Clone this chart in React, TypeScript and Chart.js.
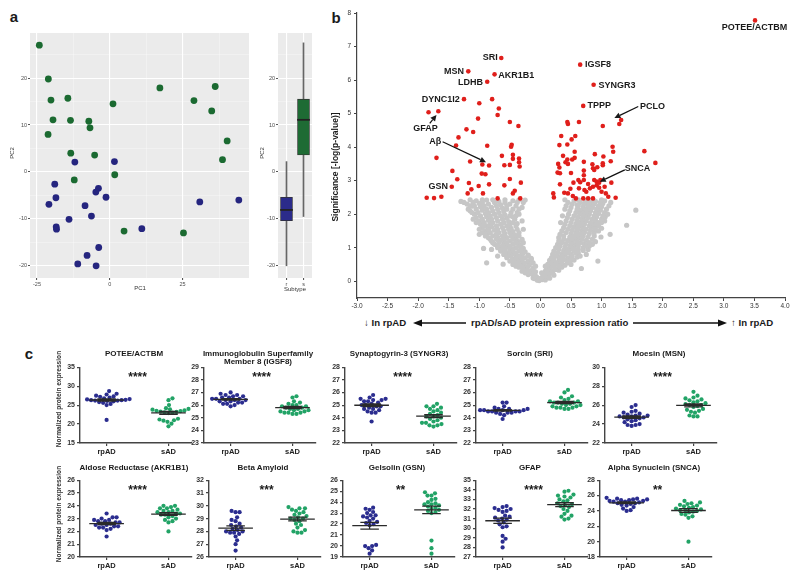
import React, { useEffect, useRef } from 'react';
import { Chart, registerables } from 'chart.js';
Chart.register(...registerables);

const FONT = '"Liberation Sans", Arial, sans-serif';

// ---------------- Panel a: PCA ----------------
const PCA_RPAD = [[-12.0,2.1],[1.6,2.2],[-18.9,-2.6],[-3.9,-3.5],[-4.8,-4.3],[-1.3,-5.4],[-18.5,-5.5],[-20.9,-6.9],[-8.5,-7.2],[-6.3,-9.4],[-14.0,-10.1],[-18.4,-11.7],[-18.3,-12.2],[11.0,-12.1],[-3.8,-16.1],[-7.8,-17.8],[-11.0,-19.6],[-4.7,-20.0],[30.9,-6.4],[44.3,-6.0]];
const PCA_SAD = [[-24.2,27.0],[-21.1,19.8],[-20.2,15.3],[-14.4,15.7],[-19.5,11.1],[-13.5,11.0],[-21.2,8.0],[-7.2,10.8],[-6.8,9.4],[-13.4,4.0],[-5.2,3.6],[-12.2,-1.7],[1.1,14.5],[1.7,-0.6],[17.2,17.9],[28.9,15.2],[36.2,18.2],[35.0,13.0],[40.3,6.6],[38.7,2.6],[4.9,-12.6],[25.3,-13.0]];
const PCA_X_GRID = [-25, -12.5, 0, 12.5, 25, 37.5];
const PCA_Y_GRID = [-20, -15, -10, -5, 0, 5, 10, 15, 20, 25];
const SUBTYPES = ['r', 's'];
const BOX_MIN = [-20.0, -9.5];
const BOX_Q1 = [-10.4, 3.6];
const BOX_MED = [-8.1, 11.1];
const BOX_Q3 = [-5.4, 15.5];
const BOX_MAX = [2.2, 27.5];

// ---------------- Panel b: volcano ----------------
const RED_PTS = [[3.51,7.78],[-0.64,6.66],[-1.18,6.26],[-0.75,6.17],[-0.87,5.95],[-1.25,5.43],[-1.83,5.04],[-1.67,5.07],[0.65,6.46],[0.87,5.86],[0.70,5.23],[1.32,4.81],[1.29,4.69],[1.02,4.63],[-1.45,2.82],
[-1.0,5.31],[-0.79,5.43],[-0.68,5.15],[-0.70,4.96],[-1.02,4.85],[-0.50,4.75],[-0.36,4.63],[-1.21,4.53],[-1.10,4.45],[-1.34,4.29],[-1.38,4.05],[-0.87,4.04],[-0.47,4.07],[-0.48,4.01],[-1.70,3.68],[-0.63,3.74],[-0.45,3.77],[-0.45,3.65],[-0.35,3.66],[-0.35,3.55],[-1.15,3.57],[-0.95,3.48],[-0.84,3.45],[-0.59,3.46],[-0.50,3.47],[-0.34,3.42],[-1.44,3.29],[-0.96,3.21],[-0.90,3.19],[-1.36,3.04],[-0.50,3.05],[-0.32,2.94],[-1.17,2.93],[-1.01,2.84],[-0.84,2.89],[-0.59,2.86],[-1.13,2.74],[-0.94,2.62],[-1.19,2.62],[-0.42,2.70],[-0.45,2.62],[-1.86,2.49],[-1.74,2.48],[-1.62,2.52],[-0.33,2.47],[-0.70,2.47],
[0.44,4.75],[0.45,4.69],[0.63,4.75],[0.57,4.33],[0.51,4.23],[0.34,4.33],[0.31,4.06],[0.44,4.08],[0.56,3.86],[1.18,4.01],[1.19,3.86],[0.89,3.79],[1.03,3.72],[1.70,3.88],[1.88,3.53],[0.37,3.74],[0.44,3.63],[0.52,3.63],[0.56,3.68],[0.41,3.55],[0.45,3.50],[0.71,3.56],[0.85,3.49],[1.02,3.52],[1.02,3.46],[1.15,3.58],[0.29,3.50],[0.31,3.39],[0.32,3.22],[0.71,3.30],[0.86,3.37],[0.93,3.40],[0.88,3.32],[0.28,3.24],[0.50,3.23],[0.71,3.16],[0.62,3.02],[0.71,3.02],[0.88,3.02],[0.92,2.97],[0.96,2.94],[0.98,3.02],[1.16,2.94],[0.32,2.89],[0.54,2.94],[0.65,2.95],[0.78,2.90],[0.92,2.86],[0.86,2.82],[0.96,2.79],[1.05,2.82],[0.49,2.76],[0.63,2.77],[0.72,2.72],[0.81,2.77],[1.00,2.67],[0.75,2.67],[0.39,2.64],[0.45,2.62],[0.21,2.62],[0.22,2.50],[0.53,2.54],[0.58,2.47],[0.70,2.47],[0.78,2.47],[0.86,2.47],[1.07,2.62],[1.11,2.52],[1.23,2.49]];

const GRAY_PTS = [[-0.05,0.03],[0.03,0.05],[0.08,0.04],[-0.1,0.08],[-0.12,0.1],[0.1,0.12],[-0.02,0.08],[0.15,0.09],
[-0.2,0.2],[-0.1,0.18],[0.05,0.2],[0.15,0.22],[0.22,0.18],[-0.25,0.25],
[-0.3,0.3],[-0.15,0.32],[-0.08,0.28],[0.08,0.3],[0.2,0.3],[0.3,0.33],[-0.22,0.35],
[-0.35,0.42],[-0.25,0.4],[-0.12,0.4],[0.1,0.4],[0.25,0.38],[0.35,0.42],[0.18,0.45],[-0.4,0.45],
[-0.45,0.5],[-0.3,0.52],[-0.18,0.5],[-0.61,0.51],[0.12,0.5],[0.28,0.52],[0.4,0.48],[0.5,0.5],[-0.88,0.55],
[-0.5,0.6],[-0.35,0.62],[-0.2,0.6],[0.15,0.62],[0.3,0.6],[0.45,0.6],[0.55,0.63],[0.94,0.6],[0.67,0.38],
[-0.55,0.7],[-0.4,0.72],[-0.25,0.7],[-0.15,0.68],[0.18,0.7],[0.3,0.72],[0.45,0.7],[0.6,0.72],[-0.7,0.75],
[-0.6,0.8],[-0.45,0.82],[-0.3,0.8],[-0.2,0.78],[0.2,0.8],[0.35,0.82],[0.5,0.8],[0.62,0.85],[0.75,0.8],
[-0.65,0.9],[-0.5,0.92],[-0.35,0.9],[-0.25,0.88],[0.22,0.9],[0.38,0.92],[0.55,0.9],[0.7,0.92],[-0.8,0.95],
[-0.93,0.98],[-0.7,1.0],[-0.55,1.02],[-0.4,1.0],[-0.28,0.98],[0.25,1.0],[0.4,1.02],[0.55,1.0],[0.7,1.0],[0.8,1.05],
[-0.75,1.1],[-0.6,1.12],[-0.45,1.1],[-0.32,1.08],[0.28,1.1],[0.42,1.12],[0.58,1.1],[0.72,1.12],[0.85,1.1],
[-0.8,1.2],[-0.65,1.22],[-0.5,1.2],[-0.36,1.18],[0.3,1.2],[0.45,1.22],[0.6,1.2],[0.75,1.22],[0.9,1.18],
[-0.85,1.3],[-0.7,1.32],[-0.55,1.3],[-0.4,1.28],[0.3,1.3],[0.48,1.32],[0.62,1.3],[0.78,1.32],[0.99,1.32],
[-1.0,1.4],[-0.88,1.42],[-0.72,1.4],[-0.58,1.42],[-0.42,1.38],[0.32,1.4],[0.5,1.42],[0.65,1.4],[0.8,1.42],[1.14,1.4],
[-0.9,1.5],[-0.75,1.52],[-0.6,1.5],[-0.45,1.48],[0.35,1.5],[0.52,1.52],[0.68,1.5],[0.82,1.52],[0.95,1.5],
[-0.95,1.6],[-0.8,1.62],[-0.62,1.6],[-0.48,1.58],[0.38,1.6],[0.55,1.62],[0.7,1.6],[0.85,1.62],[1.0,1.58],
[-0.98,1.7],[-0.82,1.72],[-0.65,1.7],[-0.5,1.68],[0.4,1.7],[0.58,1.72],[0.72,1.7],[0.88,1.72],[1.41,1.67],
[-1.0,1.8],[-0.85,1.82],[-0.7,1.8],[-0.52,1.78],[-0.3,1.8],[0.42,1.8],[0.6,1.82],[0.75,1.8],[0.9,1.82],[1.05,1.8],
[-1.05,1.9],[-0.88,1.92],[-0.72,1.9],[-0.55,1.88],[0.44,1.9],[0.62,1.92],[0.78,1.9],[0.92,1.92],[1.06,1.92],
[-1.08,2.0],[-0.9,2.02],[-0.75,2.0],[-0.58,1.98],[-0.35,2.0],[0.46,2.0],[0.65,2.02],[0.8,2.0],[0.95,2.02],[1.1,2.0],
[-1.15,2.1],[-0.95,2.12],[-0.78,2.1],[-0.6,2.08],[0.48,2.1],[0.68,2.12],[0.82,2.1],[0.98,2.12],[1.56,2.12],
[-1.12,2.24],[-0.98,2.22],[-0.8,2.2],[-0.62,2.18],[-0.3,2.2],[0.5,2.2],[0.7,2.22],[0.85,2.2],[1.0,2.22],
[-1.2,2.3],[-1.0,2.32],[-0.85,2.3],[-0.65,2.28],[-0.28,2.35],[0.52,2.3],[0.72,2.32],[0.88,2.3],[1.02,2.32],
[-1.3,2.38],[-1.05,2.4],[-0.88,2.42],[-0.68,2.38],[-0.45,2.4],[-0.25,2.42],[0.55,2.4],[0.75,2.42],[0.9,2.38],[1.05,2.4],
[-0.02,0.02],[0.02,0.1],[-0.06,0.12],[0.06,0.15],[-0.14,0.22],[0.12,0.25],[-0.18,0.3],[0.16,0.35],[-0.28,0.45],[0.22,0.48],[-0.35,0.55],[0.25,0.55],[-0.42,0.65],[0.35,0.65],[-0.48,0.75],[0.4,0.78],[-0.52,0.85],[0.45,0.85],[-0.58,0.95],[0.48,0.95],[-0.62,1.05],[0.5,1.05],[-0.68,1.15],[0.52,1.15],[-0.72,1.25],[0.55,1.25],[-0.78,1.35],[0.58,1.35],[-0.82,1.45],[0.6,1.45],[-0.85,1.55],[0.62,1.55],[-0.88,1.65],[0.65,1.65],[-0.92,1.75],[0.68,1.75],[-0.95,1.85],[0.7,1.85],[-0.98,1.95],[0.72,1.95],[-1.02,2.05],[0.75,2.05],[-1.05,2.15],[0.78,2.15],[-1.08,2.25],[0.8,2.25],[-1.1,2.35],[0.82,2.35],[-0.5,2.3],[0.6,2.28],[-0.55,2.15],[0.62,2.12],[0.36,1.95],[-0.45,1.92],[0.33,1.75],[-0.38,1.72],[0.9,1.68],[1.0,1.75],[-0.28,1.55],[1.05,1.98]];

const GRAY_FILL = [[-0.08,0.15],[0.04,0.15],[0.12,0.15],
[-0.2,0.25],[-0.12,0.25],[0.02,0.25],[0.1,0.25],[0.2,0.25],
[-0.28,0.35],[-0.12,0.35],[0.12,0.35],[0.25,0.35],
[-0.32,0.45],[-0.2,0.45],[-0.08,0.45],[0.08,0.45],[0.2,0.45],[0.3,0.45],
[-0.42,0.55],[-0.26,0.55],[-0.12,0.55],[0.18,0.55],[0.35,0.55],[0.44,0.55],
[-0.46,0.65],[-0.3,0.65],[-0.15,0.65],[0.22,0.65],[0.38,0.65],[0.5,0.65],
[-0.55,0.75],[-0.35,0.75],[-0.2,0.75],[0.25,0.75],[0.35,0.75],[0.52,0.75],[0.65,0.75],
[-0.58,0.85],[-0.4,0.85],[-0.28,0.85],[0.28,0.85],[0.42,0.85],[0.58,0.85],
[-0.65,0.95],[-0.45,0.95],[-0.32,0.95],[0.3,0.95],[0.45,0.95],[0.62,0.95],[0.78,0.95],
[-0.7,1.05],[-0.5,1.05],[-0.35,1.05],[0.32,1.05],[0.48,1.05],[0.62,1.05],[0.75,1.05],
[-0.78,1.15],[-0.55,1.15],[-0.4,1.15],[-0.28,1.15],[0.35,1.15],[0.5,1.15],[0.65,1.15],[0.8,1.15],
[-0.82,1.25],[-0.6,1.25],[-0.45,1.25],[-0.3,1.25],[0.38,1.25],[0.52,1.25],[0.68,1.25],[0.85,1.25],
[-0.9,1.35],[-0.62,1.35],[-0.48,1.35],[-0.35,1.35],[0.38,1.35],[0.55,1.35],[0.7,1.35],[0.88,1.35],
[-0.95,1.45],[-0.68,1.45],[-0.5,1.45],[-0.35,1.45],[0.42,1.45],[0.58,1.45],[0.72,1.45],[0.88,1.45],
[-1.0,1.55],[-0.7,1.55],[-0.52,1.55],[-0.38,1.55],[0.45,1.55],[0.6,1.55],[0.75,1.55],[0.9,1.55],
[-0.92,1.65],[-0.72,1.65],[-0.55,1.65],[-0.4,1.65],[0.48,1.65],[0.62,1.65],[0.8,1.65],[0.95,1.65],
[-1.05,1.75],[-0.78,1.75],[-0.6,1.75],[-0.45,1.75],[0.5,1.75],[0.65,1.75],[0.82,1.75],[0.95,1.75],
[-1.1,1.85],[-0.8,1.85],[-0.62,1.85],[-0.42,1.85],[0.52,1.85],[0.68,1.85],[0.85,1.85],[1.0,1.85],
[-0.82,1.95],[-0.65,1.95],[-0.5,1.95],[-0.4,1.95],[0.55,1.95],[0.7,1.95],[0.88,1.95],[1.02,1.95],
[-1.12,2.05],[-0.85,2.05],[-0.68,2.05],[-0.48,2.05],[-0.38,2.05],[0.58,2.05],[0.72,2.05],[0.9,2.05],[1.05,2.05],
[-1.18,2.15],[-0.88,2.15],[-0.7,2.15],[-0.45,2.15],[-0.35,2.15],[0.4,2.15],[0.6,2.15],[0.75,2.15],[0.92,2.15],[1.08,2.15],
[-1.15,2.25],[-0.92,2.25],[-0.72,2.25],[-0.55,2.25],[-0.4,2.25],[0.42,2.25],[0.62,2.25],[0.78,2.25],[0.95,2.25],[1.12,2.25],
[-1.25,2.35],[-0.95,2.35],[-0.75,2.35],[-0.58,2.35],[-0.38,2.35],[0.45,2.35],[0.65,2.35],[0.8,2.35],[0.98,2.35],[1.15,2.35],
[-1.15,2.43],[-0.95,2.43],[-0.78,2.43],[-0.58,2.43],[-0.35,2.43],[0.4,2.43],[0.62,2.43],[0.82,2.43],[1.0,2.43]];

const V_LABELS = [
  { text: 'POTEE/ACTBM', x: 3.50, y: 7.56, align: 'center' },
  { text: 'SRI', x: -0.70, y: 6.66, align: 'right' },
  { text: 'MSN', x: -1.25, y: 6.26, align: 'right' },
  { text: 'AKR1B1', x: -0.69, y: 6.15, align: 'left' },
  { text: 'LDHB', x: -0.94, y: 5.94, align: 'right' },
  { text: 'DYNC1I2', x: -1.32, y: 5.43, align: 'right' },
  { text: 'GFAP', x: -1.88, y: 4.54, align: 'center' },
  { text: 'Aβ', x: -1.72, y: 4.17, align: 'center' },
  { text: 'GSN', x: -1.51, y: 2.82, align: 'right' },
  { text: 'IGSF8', x: 0.73, y: 6.46, align: 'left' },
  { text: 'SYNGR3', x: 0.95, y: 5.85, align: 'left' },
  { text: 'TPPP', x: 0.77, y: 5.23, align: 'left' },
  { text: 'PCLO', x: 1.63, y: 5.21, align: 'left' },
  { text: 'SNCA', x: 1.38, y: 3.35, align: 'left' },
];
const V_ARROWS = [
  [-1.81, 4.71, -1.70, 4.96],
  [-1.60, 4.16, -0.89, 3.55],
  [1.60, 5.21, 1.21, 4.87],
  [1.38, 3.32, 0.97, 2.97],
];

// ---------------- Panel c: dot plots ----------------
const GROUPS = ['rpAD', 'sAD'];
const C_TITLES = ['POTEE/ACTBM', 'Immunoglobulin Superfamily\nMember 8 (IGSF8)', 'Synaptogyrin-3 (SYNGR3)', 'Sorcin (SRI)', 'Moesin (MSN)',
  'Aldose Reductase (AKR1B1)', 'Beta Amyloid', 'Gelsolin (GSN)', 'GFAP', 'Alpha Synuclein (SNCA)'];
const C_STARS = ['****', '****', '****', '****', '****', '****', '***', '**', '****', '**'];
const C_YMIN = [15, 23, 22, 22, 22, 20, 26, 19, 27, 18];
const C_YMAX = [35, 29, 28, 28, 30, 26, 32, 26, 35, 28];
const C_YSTEP = [5, 1, 1, 1, 2, 1, 1, 1, 1, 2];
const C_RPAD = [
  [28.7,28.0,27.8,27.5,27.3,27.2,27.0,26.8,26.6,26.5,26.4,26.3,26.3,26.2,26.2,26.1,26.0,25.8,25.6,25.3,25.0,21.1],
  [27.0,26.9,26.8,26.8,26.7,26.7,26.6,26.6,26.5,26.5,26.5,26.4,26.4,26.4,26.3,26.3,26.2,26.2,26.1,26.1,26.0,25.9],
  [25.8,25.6,25.5,25.5,25.4,25.4,25.3,25.3,25.2,25.1,25.0,25.0,24.9,24.9,24.8,24.7,24.7,24.6,24.5,24.4,24.4,23.7],
  [25.2,25.2,24.9,24.8,24.7,24.7,24.7,24.6,24.6,24.6,24.6,24.5,24.5,24.5,24.5,24.4,24.4,24.4,24.3,24.2,23.9],
  [26.0,25.8,25.4,25.3,25.2,25.1,25.0,24.9,24.9,24.8,24.8,24.7,24.7,24.6,24.5,24.4,24.3,24.2,24.0,23.9,23.9,23.8],
  [23.4,23.1,23.1,23.0,22.9,22.9,22.8,22.8,22.7,22.7,22.6,22.6,22.5,22.5,22.4,22.4,22.3,22.3,22.2,22.1,21.6],
  [29.6,29.5,29.5,29.1,28.9,28.8,28.6,28.5,28.4,28.3,28.2,28.1,28.0,28.0,27.9,27.9,27.8,27.6,27.3,27.0,26.5],
  [23.5,23.4,23.3,23.1,23.0,22.8,22.8,22.7,22.6,22.5,22.3,22.2,22.1,22.0,21.9,20.1,20.0,20.0,19.8,19.6,19.3],
  [32.3,32.2,32.1,32.0,31.9,31.8,31.7,31.3,31.2,31.1,31.0,30.9,30.8,30.6,30.4,30.2,30.1,29.2,28.9,28.6,28.0],
  [25.7,25.6,25.6,25.5,25.5,25.4,25.4,25.3,25.3,25.2,25.2,25.1,25.0,25.0,24.9,24.8,24.7,24.5,24.3,24.1,24.0],
];
const C_SAD = [
  [26.8,26.3,25.0,24.2,24.0,23.9,23.8,23.6,23.5,23.4,23.3,23.2,23.1,23.0,22.9,21.4,21.2,21.0,20.9,20.6,20.1,19.4],
  [26.7,26.6,26.3,26.2,26.1,26.0,26.0,25.9,25.9,25.8,25.8,25.7,25.7,25.6,25.6,25.5,25.5,25.4,25.4,25.4,25.3,25.3],
  [25.1,24.9,24.9,24.8,24.7,24.6,24.5,24.4,24.3,24.2,24.1,24.1,24.0,23.9,23.8,23.7,23.6,23.6,23.5,23.4,23.4,23.3],
  [26.2,26.0,25.7,25.6,25.5,25.4,25.3,25.3,25.2,25.2,25.2,25.1,25.1,25.0,25.0,24.9,24.9,24.8,24.8,24.8,24.7,24.7],
  [27.4,27.0,26.8,26.7,26.6,26.5,26.4,26.3,26.2,26.1,26.0,26.0,25.9,25.8,25.6,25.5,25.4,25.3,25.2,24.9,24.8,24.8],
  [24.0,24.0,23.9,23.8,23.8,23.7,23.6,23.6,23.5,23.5,23.4,23.4,23.3,23.3,23.2,23.1,23.0,22.9,22.8,22.7,22.0],
  [29.9,29.8,29.8,29.7,29.6,29.5,29.4,29.3,29.2,29.1,29.0,29.0,28.9,28.8,28.6,28.5,28.3,28.1,28.0,27.9,27.9],
  [24.9,24.8,24.6,24.6,24.3,24.2,24.0,23.9,23.8,23.8,23.7,23.6,23.5,23.4,23.3,23.2,23.1,23.0,20.5,19.8,19.3],
  [33.9,33.8,33.5,33.4,33.3,33.2,33.0,32.9,32.8,32.6,32.5,32.4,32.3,32.2,32.0,31.8,31.5,31.3,31.2,31.0,30.9],
  [25.3,25.1,25.0,24.9,24.8,24.7,24.6,24.5,24.4,24.3,24.2,24.1,24.1,24.0,23.9,23.8,23.6,23.5,23.3,23.1,20.0],
];

// ---------------- layout (not data) ----------------
const C_LEFT = [80, 204, 345, 476, 605, 80, 209, 343, 476, 600];
const C_ROW_TOP = [367, 480];
const C_ROW_BOTTOM = [443, 557];
const C_PLOT_W = 112;
const C_XMIN = -0.43, C_XMAX = 1.38;
const GROUP_COLORS = ['#2b2d8f', '#22a366'];
const DOT_DIAM = 4.0;

function swarmOffsets(values: number[], pxPerY: number): number[] {
  const order = values.map((_, i) => i).sort((a, b) => values[a] - values[b]);
  const placed: { x: number; y: number }[] = [];
  const offs = new Array(values.length).fill(0);
  for (const i of order) {
    const py = values[i] * pxPerY;
    let best = 0;
    for (let k = 0; k < 400; k++) {
      const cand = (k % 2 === 1 ? 1 : -1) * Math.ceil(k / 2) * 0.5;
      const ok = placed.every(p => (p.x - cand) ** 2 + (p.y - py) ** 2 >= DOT_DIAM * DOT_DIAM);
      if (ok) { best = cand; break; }
    }
    placed.push({ x: best, y: py });
    offs[i] = best;
  }
  return offs;
}

function fixed(padL: number, padB: number) {
  return {
    x: (s: any) => { s.height = padB; },
    y: (s: any) => { s.width = padL; },
  };
}

const bgPlugin = {
  id: 'ggbg',
  beforeDraw(chart: any) {
    const { ctx, chartArea: a } = chart;
    ctx.save();
    ctx.fillStyle = '#ebebeb';
    ctx.fillRect(a.left, a.top, a.right - a.left, a.bottom - a.top);
    ctx.restore();
  },
};

const baseOpts = {
  responsive: false,
  maintainAspectRatio: false,
  animation: false,
  devicePixelRatio: 1,
  events: [],
};

function ggScale(gridVals: number[], major: (v: number) => boolean, min: number, max: number, afterFit: any) {
  return {
    type: 'linear',
    min, max,
    afterFit,
    afterBuildTicks: (s: any) => { s.ticks = gridVals.map(v => ({ value: v })); },
    border: { display: false },
    grid: {
      color: (c: any) => (c.tick && major(c.tick.value) ? '#ffffff' : 'rgba(255,255,255,0.6)'),
      lineWidth: (c: any) => (c.tick && major(c.tick.value) ? 1.1 : 0.5),
      tickColor: (c: any) => (c.tick && major(c.tick.value) ? '#555' : 'rgba(0,0,0,0)'),
      tickLength: 2,
      drawTicks: true,
    },
    ticks: {
      autoSkip: false,
      padding: 1,
      color: '#4d4d4d',
      font: { family: FONT, size: 5.5 },
      callback: (v: number) => (major(v) ? String(v) : ''),
    },
  };
}

function pcaConfig() {
  const f = fixed(30, 17);
  return {
    type: 'scatter',
    data: {
      datasets: [
        { data: PCA_RPAD.map(p => ({ x: p[0], y: p[1] })), backgroundColor: '#25257f', pointRadius: 3.4, borderWidth: 0 },
        { data: PCA_SAD.map(p => ({ x: p[0], y: p[1] })), backgroundColor: '#1b6a31', pointRadius: 3.4, borderWidth: 0 },
      ],
    },
    options: {
      ...baseOpts,
      layout: { padding: { top: 13, right: 6, left: 0, bottom: 0 } },
      plugins: { legend: { display: false }, tooltip: { enabled: false } },
      scales: {
        x: ggScale(PCA_X_GRID, v => v % 25 === 0, -27.4, 47.8, f.x),
        y: ggScale(PCA_Y_GRID, v => v % 10 === 0, -22.6, 29.6, f.y),
      },
    },
    plugins: [bgPlugin],
  };
}

function boxConfig() {
  const f = fixed(23, 17);
  const yS = ggScale(PCA_Y_GRID, v => v % 10 === 0, -22.6, 29.6, f.y);
  return {
    type: 'bar',
    data: {
      labels: SUBTYPES,
      datasets: [
        { data: SUBTYPES.map((_, i) => [BOX_MIN[i], BOX_MAX[i]]), backgroundColor: '#666', barThickness: 1, grouped: false, order: 3 },
        { data: SUBTYPES.map((_, i) => [BOX_Q1[i], BOX_Q3[i]]), backgroundColor: ['#2b2b8a', '#1e6b34'], borderColor: '#333', borderWidth: 0.8, borderSkipped: false, barThickness: 12, grouped: false, order: 2 },
        { data: SUBTYPES.map((_, i) => [BOX_MED[i] - 0.12, BOX_MED[i] + 0.12]), backgroundColor: '#222', barThickness: 12, grouped: false, order: 1 },
      ],
    },
    options: {
      ...baseOpts,
      layout: { padding: { top: 13, right: 8, left: 0, bottom: 0 } },
      plugins: { legend: { display: false }, tooltip: { enabled: false } },
      scales: {
        x: {
          type: 'category',
          afterFit: f.x,
          border: { display: false },
          grid: { offset: false, color: '#ffffff', lineWidth: 1.1, tickColor: '#555', tickLength: 2 },
          ticks: { padding: 1, color: '#4d4d4d', font: { family: FONT, size: 5.5 } },
        },
        y: yS,
      },
    },
    plugins: [bgPlugin],
  };
}

function drawArrow(ctx: any, x1: number, y1: number, x2: number, y2: number, head: number, half: number) {
  const ang = Math.atan2(y2 - y1, x2 - x1);
  const bx = x2 - head * Math.cos(ang), by = y2 - head * Math.sin(ang);
  ctx.beginPath();
  ctx.moveTo(x1, y1);
  ctx.lineTo(bx, by);
  ctx.stroke();
  ctx.beginPath();
  ctx.moveTo(x2, y2);
  ctx.lineTo(bx + half * Math.sin(ang), by - half * Math.cos(ang));
  ctx.lineTo(bx - half * Math.sin(ang), by + half * Math.cos(ang));
  ctx.closePath();
  ctx.fill();
}

const volcanoLabels = {
  id: 'vlabels',
  afterDatasetsDraw(chart: any) {
    const { ctx, scales: { x, y } } = chart;
    ctx.save();
    ctx.font = `bold 9px ${FONT}`;
    ctx.fillStyle = '#1a1a1a';
    ctx.textBaseline = 'middle';
    V_LABELS.forEach(l => {
      ctx.textAlign = l.align;
      ctx.fillText(l.text, x.getPixelForValue(l.x), y.getPixelForValue(l.y));
    });
    ctx.strokeStyle = '#111';
    ctx.lineWidth = 1.2;
    V_ARROWS.forEach(a => {
      drawArrow(ctx, x.getPixelForValue(a[0]), y.getPixelForValue(a[1]), x.getPixelForValue(a[2]), y.getPixelForValue(a[3]), 6, 3);
    });
    ctx.restore();
  },
};

function volcanoConfig() {
  const f = fixed(27, 17);
  const axisCommon = {
    border: { display: true, color: '#444', width: 1.2 },
    grid: { drawOnChartArea: false, drawTicks: true, tickLength: 3, color: '#444' },
  };
  return {
    type: 'scatter',
    data: {
      datasets: [
        { data: RED_PTS.map(p => ({ x: p[0], y: p[1] })), backgroundColor: '#e01f1b', pointRadius: 2.3, borderWidth: 0, order: 1 },
        { data: GRAY_PTS.concat(GRAY_FILL).map(p => ({ x: p[0], y: p[1] })), backgroundColor: '#c6c6c6', pointRadius: 2.6, borderWidth: 0, order: 2 },
      ],
    },
    options: {
      ...baseOpts,
      layout: { padding: { top: 13, right: 15, left: 0, bottom: 0 } },
      plugins: { legend: { display: false }, tooltip: { enabled: false } },
      scales: {
        x: {
          type: 'linear', min: -3, max: 4, afterFit: f.x, ...axisCommon,
          ticks: { stepSize: 0.5, autoSkip: false, maxRotation: 0, padding: 1, color: '#333', font: { family: FONT, size: 6.5 }, callback: (v: number) => v.toFixed(1) },
        },
        y: {
          type: 'linear', min: -0.5, max: 8, afterFit: f.y, ...axisCommon,
          ticks: { stepSize: 1, autoSkip: false, includeBounds: false, padding: 3, color: '#333', font: { family: FONT, size: 6.5 } },
        },
      },
    },
    plugins: [volcanoLabels],
  };
}

function dotConfig(i: number) {
  const row = i < 5 ? 0 : 1;
  const plotH = C_ROW_BOTTOM[row] - C_ROW_TOP[row];
  const pxY = plotH / (C_YMAX[i] - C_YMIN[i]);
  const pxX = C_PLOT_W / (C_XMAX - C_XMIN);
  const groups = [C_RPAD[i], C_SAD[i]];
  const datasets = groups.map((vals, g) => {
    const offs = swarmOffsets(vals, pxY);
    return {
      data: vals.map((v, k) => ({ x: g + offs[k] / pxX, y: v })),
      backgroundColor: GROUP_COLORS[g],
      pointRadius: 2.1,
      borderWidth: 0,
    };
  });
  const stats = groups.map(vals => {
    const n = vals.length;
    const m = vals.reduce((a, b) => a + b, 0) / n;
    const sd = Math.sqrt(vals.reduce((a, b) => a + (b - m) ** 2, 0) / (n - 1));
    return { m, sem: sd / Math.sqrt(n) };
  });
  const meanPlugin = {
    id: 'meansem',
    afterDatasetsDraw(chart: any) {
      const { ctx, scales: { x, y }, chartArea } = chart;
      ctx.save();
      ctx.strokeStyle = '#2a2a2a';
      ctx.lineWidth = 1.3;
      stats.forEach((s, g) => {
        const cx = x.getPixelForValue(g);
        const ym = y.getPixelForValue(s.m);
        const yh = y.getPixelForValue(s.m + s.sem);
        const yl = y.getPixelForValue(s.m - s.sem);
        ctx.beginPath();
        ctx.moveTo(x.getPixelForValue(g - 0.28), ym); ctx.lineTo(x.getPixelForValue(g + 0.28), ym);
        ctx.moveTo(x.getPixelForValue(g - 0.15), yh); ctx.lineTo(x.getPixelForValue(g + 0.15), yh);
        ctx.moveTo(x.getPixelForValue(g - 0.15), yl); ctx.lineTo(x.getPixelForValue(g + 0.15), yl);
        ctx.moveTo(cx, yh); ctx.lineTo(cx, yl);
        ctx.stroke();
      });
      ctx.fillStyle = '#1a1a1a';
      ctx.font = `bold 12px ${FONT}`;
      ctx.textAlign = 'center';
      ctx.textBaseline = 'middle';
      ctx.fillText(C_STARS[i], x.getPixelForValue(0.5), chartArea.top + 10);
      ctx.restore();
    },
  };
  const f = fixed(28, 16);
  const axis = {
    border: { display: true, color: '#444', width: 1.4 },
    grid: { drawOnChartArea: false, drawTicks: true, tickLength: 3, color: '#444', lineWidth: 1.2 },
  };
  return {
    type: 'scatter',
    data: { datasets },
    options: {
      ...baseOpts,
      layout: { padding: { top: 6, right: 4, left: 0, bottom: 0 } },
      plugins: { legend: { display: false }, tooltip: { enabled: false } },
      scales: {
        x: {
          type: 'linear', min: C_XMIN, max: C_XMAX, afterFit: f.x, ...axis,
          afterBuildTicks: (s: any) => { s.ticks = GROUPS.map((_, k) => ({ value: k })); },
          ticks: { autoSkip: false, maxRotation: 0, padding: 1, color: '#222', font: { family: FONT, size: 7.5, weight: 'bold' }, callback: (v: number) => GROUPS[v] },
        },
        y: {
          type: 'linear', min: C_YMIN[i], max: C_YMAX[i], afterFit: f.y, ...axis,
          ticks: { stepSize: C_YSTEP[i], autoSkip: false, padding: 2, color: '#333', font: { family: FONT, size: 7, weight: 'bold' } },
        },
      },
    },
    plugins: [meanPlugin],
  };
}

function ChartCanvas({ left, top, width, height, make }: any) {
  const ref = useRef<HTMLCanvasElement>(null);
  useEffect(() => {
    const chart = new Chart(ref.current as any, make());
    return () => chart.destroy();
  }, []);
  return <canvas ref={ref} width={width} height={height} style={{ position: 'absolute', left, top, width, height }} />;
}

function Txt({ x, y, size, bold, rotate, children, align, color, lh }: any) {
  const tx = align === 'left' ? '0' : align === 'right' ? '-100%' : '-50%';
  return (
    <div style={{
      position: 'absolute', left: x, top: y, transform: `translate(${tx}, -50%)${rotate ? ` rotate(${rotate}deg)` : ''}`,
      transformOrigin: align === 'left' ? 'left center' : 'center center',
      font: `${bold ? 'bold ' : ''}${size}px ${FONT}`, color: color || '#1a1a1a', whiteSpace: 'pre', lineHeight: lh ? `${lh}px` : '1', textAlign: 'center',
    }}>{children}</div>
  );
}

export default function App() {
  return (
    <div style={{ position: 'absolute', left: 0, top: 0, width: 800, height: 580, background: '#fff', overflow: 'hidden' }}>
      <Txt x={14} y={16} size={15} bold>a</Txt>
      <Txt x={336} y={17} size={15} bold>b</Txt>
      <Txt x={29} y={353} size={15} bold>c</Txt>

      <ChartCanvas left={0} top={20} width={255} height={275} make={pcaConfig} />
      <ChartCanvas left={255} top={20} width={65} height={275} make={boxConfig} />
      <Txt x={140} y={288} size={6} color="#333">PC1</Txt>
      <Txt x={12} y={153} size={6} rotate={-90} color="#333">PC2</Txt>
      <Txt x={262} y={153} size={6} rotate={-90} color="#333">PC2</Txt>
      <Txt x={295} y={289} size={6} color="#333">Subtype</Txt>

      <ChartCanvas left={330} top={0} width={470} height={315} make={volcanoConfig} />
      <Txt x={335} y={167} size={8.5} bold rotate={-90}>Significance [-log(p-value)]</Txt>
      <Txt x={364} y={323} size={9.6} bold align="left">↓ In rpAD</Txt>
      <Txt x={471} y={323} size={9.6} bold align="left">rpAD/sAD protein expression ratio</Txt>
      <Txt x={731} y={323} size={9.6} bold align="left">↑ In rpAD</Txt>
      <svg width={800} height={580} style={{ position: 'absolute', left: 0, top: 0, pointerEvents: 'none' }}>
        <line x1={421} y1={323} x2={466} y2={323} stroke="#111" strokeWidth={1.6} />
        <polygon points="413,323 422,319.5 422,326.5" fill="#111" />
        <line x1={633} y1={323} x2={719} y2={323} stroke="#111" strokeWidth={1.6} />
        <polygon points="727,323 718,319.5 718,326.5" fill="#111" />
      </svg>

      <Txt x={59} y={399} size={6.6} bold rotate={-90} color="#333">Normalized protein expression</Txt>
      <Txt x={59} y={514} size={6.6} bold rotate={-90} color="#333">Normalized protein expression</Txt>
      {C_TITLES.map((t, i) => {
        const row = i < 5 ? 0 : 1;
        const T = C_ROW_TOP[row], B = C_ROW_BOTTOM[row];
        const L = C_LEFT[i];
        const twoLine = t.includes('\n');
        return (
          <React.Fragment key={i}>
            <Txt x={L + 54} y={row === 0 ? (twoLine ? 357.5 : 354) : 468} size={8} bold lh={8.5}>{t}</Txt>
            <ChartCanvas left={L - 28} top={T - 6} width={C_PLOT_W + 32} height={B - T + 22} make={() => dotConfig(i)} />
          </React.Fragment>
        );
      })}
    </div>
  );
}
